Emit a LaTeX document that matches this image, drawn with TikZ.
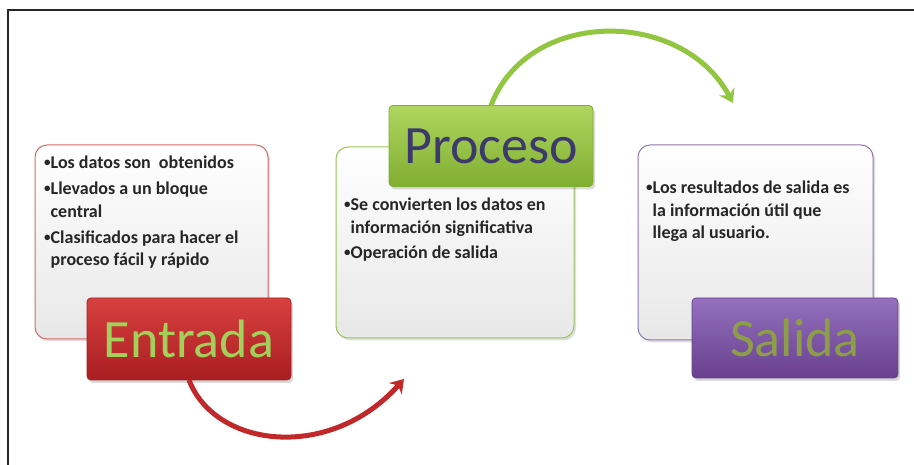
\documentclass[tikz,border=0pt]{standalone}
\usepackage{fontspec}
\setmainfont{Carlito}
\usetikzlibrary{shadows,arrows.meta}
\definecolor{boxgray}{HTML}{F3F3F3}
\definecolor{redline}{HTML}{D46A6A}
\definecolor{greenline}{HTML}{9DC454}
\definecolor{purpleline}{HTML}{8E76B2}
\definecolor{redtop}{HTML}{D8403E}
\definecolor{redbot}{HTML}{A81E22}
\definecolor{greentop}{HTML}{B0D660}
\definecolor{greenbot}{HTML}{7FAE30}
\definecolor{purptop}{HTML}{9470BE}
\definecolor{purpbot}{HTML}{68408E}
\definecolor{entradatxt}{HTML}{A2D05A}
\definecolor{procesotxt}{HTML}{3C3A6C}
\definecolor{salidatxt}{HTML}{8E9E48}
\definecolor{redarrow}{HTML}{C0282A}
\definecolor{greenarrow}{HTML}{92C640}
\newcommand{\bul}{\raisebox{2pt}{\fontsize{13}{13}\selectfont •}}
\newcommand{\ind}{\phantom{\bul}}
\begin{document}
\begin{tikzpicture}[x=1pt,y=-1pt,
  textbox/.style={rounded corners=12pt, line width=1pt, top color=white, bottom color=boxgray!90!gray,
    inner sep=0pt, outer sep=0pt,
    drop shadow={shadow xshift=2pt, shadow yshift=-2.5pt, opacity=0.25}},
  labelbox/.style={rounded corners=4pt, line width=0.8pt, inner sep=0pt, outer sep=0pt,
    font=\fontsize{54}{54}\selectfont,
    drop shadow={shadow xshift=2pt, shadow yshift=-3pt, opacity=0.3}},
  bodytext/.style={anchor=north west, align=left, inner sep=0pt,
    font=\bfseries\fontsize{18}{22.5}\selectfont, text=black!85},
  curvearrow/.style={line width=5pt, -{Stealth[length=13pt,width=17pt]}}
]
\useasboundingbox (0,0) rectangle (914,465);
\draw[line width=1.5pt, black!85] (8,465) -- (8,10) -- (914,10);

% text boxes
\node[textbox, draw=redline, minimum width=233pt, minimum height=194pt] (entradaBox) at (151.5,242) {};
\node[textbox, draw=greenline, minimum width=238pt, minimum height=191pt] (procesoBox) at (455,242.5) {};
\node[textbox, draw=purpleline, minimum width=235pt, minimum height=195pt] (salidaBox) at (755.5,242.5) {};

% body texts
\node[bodytext] (entradaTxt) at (44,156) {\bul Los datos son\ \ obtenidos\\[3.5pt]
\bul Llevados a un bloque\\
\ind central\\[3.5pt]
\bul Clasificados para hacer el\\
\ind proceso fácil y rápido};
\node[bodytext] (procesoTxt) at (344,198) {\bul Se convierten los datos en\\
\ind información significativa\\[2.5pt]
\bul Operación de salida};
\node[bodytext] (salidaTxt) at (646,181) {\bul Los resultados de salida es\\
\ind la información útil que\\
\ind llega al usuario.};

% label boxes
\node[labelbox, draw=redbot, top color=redtop, bottom color=redbot, text=entradatxt,
  minimum width=204pt, minimum height=82pt] (entradaLbl) at (189,339) {Entrada};
\node[labelbox, draw=greenbot, top color=greentop, bottom color=greenbot, text=procesotxt,
  minimum width=204pt, minimum height=81pt] (procesoLbl) at (491,146) {Proceso};
\node[labelbox, draw=purpbot, top color=purptop, bottom color=purpbot, text=salidatxt,
  minimum width=206pt, minimum height=80pt] (salidaLbl) at (795,338) {Salida};

% arrows
\coordinate (redEnd) at (404,379);
\coordinate (greenEnd) at (733,103);
\draw[curvearrow, redarrow] (entradaLbl.south) .. controls (215,448) and (330,462) .. (redEnd);
\draw[curvearrow, greenarrow] (procesoLbl.north) .. controls (528,8) and (682,8) .. (greenEnd);
\end{tikzpicture}
\end{document}
